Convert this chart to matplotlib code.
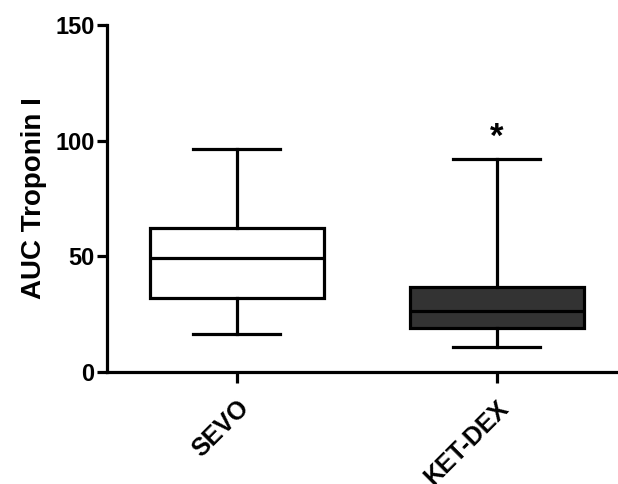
import matplotlib.pyplot as plt

plt.rcParams['font.family'] = ['Liberation Sans', 'DejaVu Sans']
plt.rcParams['font.weight'] = 'bold'

# grupos e estatísticas
grupos = ['SEVO', 'KET-DEX']
whislo = [16.3, 10.7]
q1 = [32.1, 19.2]
med = [49.4, 26.5]
q3 = [62.4, 36.9]
whishi = [96.3, 92.0]
cores = ['white', '#333333']

stats = []
for i in range(len(grupos)):
    stats.append({'whislo': whislo[i], 'q1': q1[i], 'med': med[i],
                  'q3': q3[i], 'whishi': whishi[i], 'fliers': []})

fig = plt.figure(figsize=(6.18, 4.84), dpi=100)
ax = fig.add_axes([0.1731, 0.2314, 0.8269, 0.7169])

lw = 2.3
bp = ax.bxp(stats, positions=[1, 2], widths=0.67, patch_artist=True,
            showfliers=False,
            boxprops=dict(linewidth=lw, edgecolor='black'),
            medianprops=dict(color='black', linewidth=lw),
            whiskerprops=dict(color='black', linewidth=lw),
            capprops=dict(color='black', linewidth=lw))
for patch, c in zip(bp['boxes'], cores):
    patch.set_facecolor(c)

# asterisco de significância
ax.text(2, 101.5, '*', ha='center', va='center', fontsize=25, fontweight='bold')

ax.set_xlim(0.5, 2.466)
ax.set_ylim(0, 150)
ax.set_yticks([0, 50, 100, 150])
ax.set_xticks([1, 2])
ax.set_xticklabels(grupos, rotation=45, ha='right', rotation_mode='anchor',
                   fontsize=18, fontweight='bold')
ax.tick_params(axis='y', labelsize=17, width=lw, length=7, pad=2)
ax.tick_params(axis='x', width=lw, length=8, pad=9)
for lab in ax.get_yticklabels():
    lab.set_fontweight('bold')
ax.set_ylabel('AUC Troponin I', fontsize=20, fontweight='bold', labelpad=6)

for s in ['top', 'right']:
    ax.spines[s].set_visible(False)
for s in ['left', 'bottom']:
    ax.spines[s].set_linewidth(lw)

fig.savefig('out.png', dpi=100)
